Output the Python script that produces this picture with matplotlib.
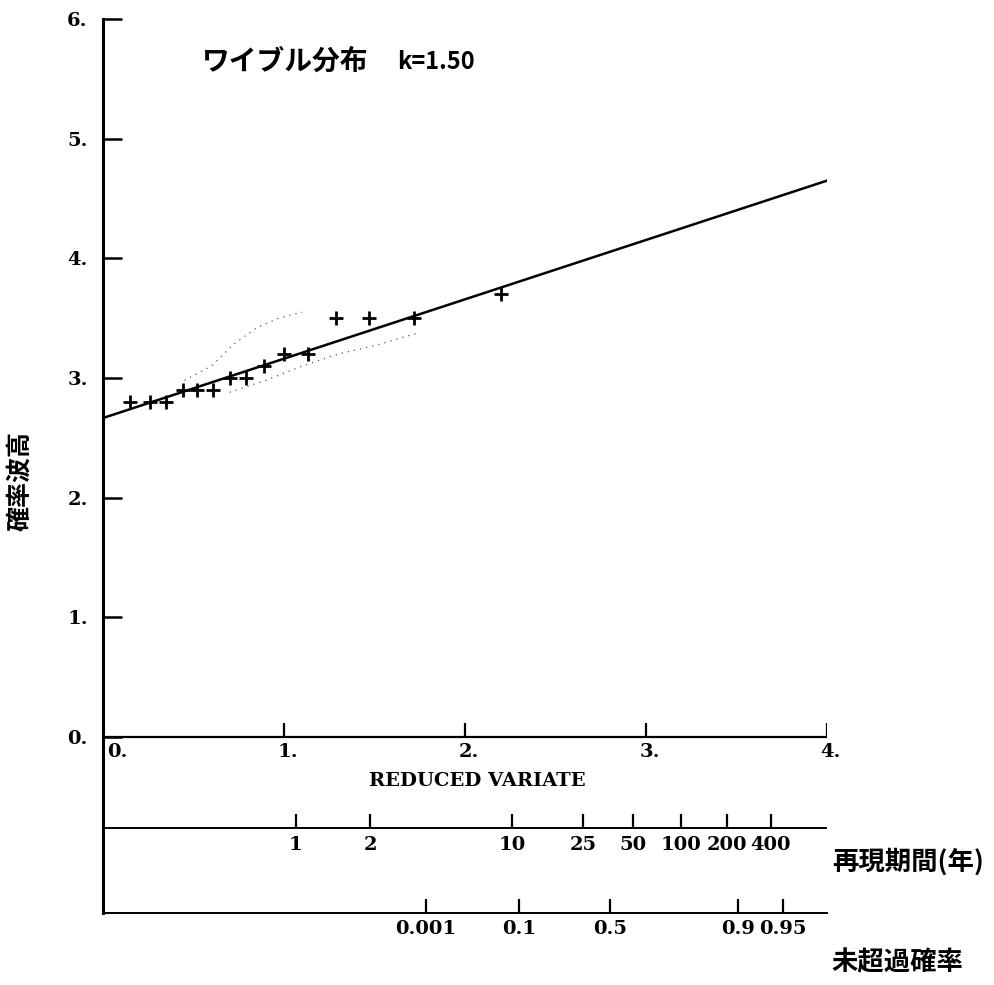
import matplotlib
matplotlib.use("Agg")
import matplotlib.pyplot as plt
import numpy as np

# Weibull fit, k = 1.5
K = 1.5
RATE = 3.0       # events per year
YEARS = 25       # record length for the non-exceedance scale

# plotted sample: reduced variate vs wave height
rv = [0.15, 0.26, 0.35, 0.44, 0.52, 0.61, 0.70, 0.79, 0.89, 1.00,
      1.13, 1.29, 1.47, 1.72, 2.20]
height = [2.8, 2.8, 2.8, 2.9, 2.9, 2.9, 3.0, 3.0, 3.1, 3.2,
          3.2, 3.5, 3.5, 3.5, 3.7]

# fitted line
a0 = 2.665
a1 = 0.496

# confidence band (dotted)
band_up_x = [0.45, 0.60, 0.72, 0.85, 0.97, 1.10]
band_up_y = [2.98, 3.10, 3.28, 3.42, 3.50, 3.55]
band_lo_x = [0.70, 0.90, 1.10, 1.30, 1.50, 1.75]
band_lo_y = [2.88, 2.98, 3.10, 3.20, 3.27, 3.38]

rv_ticks = [0, 1, 2, 3, 4]
h_ticks = [0, 1, 2, 3, 4, 5, 6]
periods = [1, 2, 10, 25, 50, 100, 200, 400]
probs = [0.001, 0.1, 0.5, 0.9, 0.95]

RP_Y = -0.761    # return period scale
PR_Y = -1.472    # probability scale (bottom spine)
TICK = 0.117

def period_to_rv(t):
    return np.log(RATE * t) ** (1 / K)

def prob_to_rv(p):
    return np.log(RATE * YEARS / -np.log(p)) ** (1 / K)

cjk = ["Noto Sans CJK JP", "DejaVu Sans"]
num = dict(family="DejaVu Serif", fontweight="bold", fontsize=14)

fig = plt.figure(figsize=(9.95, 9.85), dpi=100)
ax = fig.add_axes([0.1035, 0.0731, 0.7276, 0.9076])
ax.set_xlim(0, 4)
ax.set_ylim(PR_Y, 6)
for s in ["top", "right"]:
    ax.spines[s].set_visible(False)
ax.spines["left"].set_linewidth(2.2)
ax.spines["bottom"].set_linewidth(1.4)
ax.set_xticks([])
ax.set_yticks(h_ticks)
ax.set_yticklabels([f"{v}." for v in h_ticks], **num)
ax.tick_params(axis="y", direction="in", length=14, width=1.8, pad=11)

# reduced variate axis
ax.axhline(0, color="black", lw=1.6)
ax.vlines(rv_ticks, 0, TICK, color="black", lw=1.6)
for v in rv_ticks:
    xt = 0.08 if v == 0 else v + 0.02
    ax.text(xt, -0.13, f"{v}.", ha="center", va="center", **num)
ax.text(2.07, -0.37, "REDUCED VARIATE", ha="center", va="center",
        family="DejaVu Serif", fontweight="bold", fontsize=14)

# return period scale
ax.axhline(RP_Y, color="black", lw=1.4)
pt = [period_to_rv(t) for t in periods]
ax.vlines(pt, RP_Y, RP_Y + TICK, color="black", lw=1.6)
for x, t in zip(pt, periods):
    ax.text(x, RP_Y - 0.14, str(t), ha="center", va="center", **num)

# non-exceedance probability scale
px = [prob_to_rv(p) for p in probs]
ax.vlines(px, PR_Y, PR_Y + TICK, color="black", lw=1.6)
for x, p in zip(px, probs):
    ax.text(x, PR_Y - 0.13, f"{p:g}", ha="center", va="center",
            clip_on=False, **num)

# data, fit and band
ax.plot(band_up_x, band_up_y, color="0.35", lw=0.9, ls=(0, (1, 4)))
ax.plot(band_lo_x, band_lo_y, color="0.35", lw=0.9, ls=(0, (1, 4)))
xs = np.array([0, 4])
ax.plot(xs, a0 + a1 * xs, color="black", lw=1.8)
ax.plot(rv, height, "+", color="black", ms=10, mew=2.0)

fig.text(0.203, 0.937, "ワイブル分布", family=cjk, fontsize=20,
         fontweight="bold", va="center")
fig.text(0.399, 0.937, f"k={K:.2f}", family=cjk, fontsize=17,
         fontweight="bold", va="center")
fig.text(0.020, 0.512, "確率波高", family=cjk, fontsize=18, fontweight="bold",
         rotation=90, ha="center", va="center")
fig.text(0.836, 0.125, "再現期間(年)", family=cjk, fontsize=19,
         fontweight="bold", va="center")
fig.text(0.836, 0.022, "未超過確率", family=cjk, fontsize=19,
         fontweight="bold", va="center")

fig.savefig("out.png", dpi=100)
